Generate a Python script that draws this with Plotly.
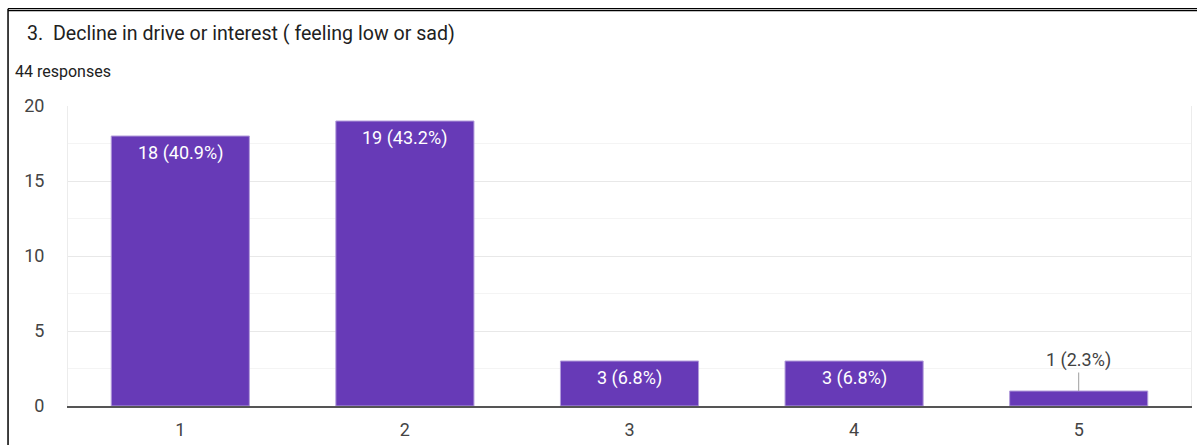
import plotly.graph_objects as go

# Survey question results
categories = ["1", "2", "3", "4", "5"]
counts = [18, 19, 3, 3, 1]
total_responses = 44
title_text = "3.  Decline in drive or interest ( feeling low or sad)"
subtitle_text = f"{total_responses} responses"
y_ticks = [0, 5, 10, 15, 20]

BAR_COLOR = "#673ab7"
FONT = "Roboto, Arial, sans-serif"

labels = [f"{c} ({c / total_responses * 100:.1f}%)" for c in counts]

fig = go.Figure()
fig.add_trace(go.Bar(
    x=categories,
    y=counts,
    marker=dict(color=BAR_COLOR, line=dict(color="#b39ddb", width=1)),
    width=0.615,
    hoverinfo="skip",
))

# Value labels: inside the bar top when tall enough, otherwise above with a leader line
for idx, (val, lab) in enumerate(zip(counts, labels)):
    if val >= 2:
        fig.add_annotation(
            x=idx, y=val, text=lab, showarrow=False,
            xanchor="center", yanchor="top", yshift=-4,
            font=dict(family=FONT, size=18, color="#ffffff"),
        )
    else:
        fig.add_annotation(
            x=idx, y=val, text=lab, showarrow=True,
            arrowhead=0, arrowwidth=1, arrowcolor="#9e9e9e",
            ax=0, ay=-31, standoff=0,
            font=dict(family=FONT, size=18, color="#424242"),
        )

# Heading and response count
fig.add_annotation(
    xref="paper", yref="paper", x=-0.038, y=1.242,
    xanchor="left", yanchor="middle", showarrow=False,
    text=title_text, font=dict(family=FONT, size=19.6, color="#212121"),
)
fig.add_annotation(
    xref="paper", yref="paper", x=-0.049, y=1.114,
    xanchor="left", yanchor="middle", showarrow=False,
    text=subtitle_text, font=dict(family=FONT, size=16, color="#212121"),
)

# Card frame: double rule along the top, single rule on the left
for yv in (1.3245, 1.3180):
    fig.add_shape(type="line", xref="paper", yref="paper",
                  x0=-0.0534, x1=1.01, y0=yv, y1=yv,
                  line=dict(color="#000000", width=1.2))
fig.add_shape(type="line", xref="paper", yref="paper",
              x0=-0.0534, x1=-0.0534, y0=-0.2, y1=1.3245,
              line=dict(color="#000000", width=1.5))

fig.update_layout(
    width=1197, height=445,
    margin=dict(l=68, r=5, t=106, b=34),
    paper_bgcolor="#ffffff", plot_bgcolor="#ffffff",
    showlegend=False, bargap=0.385,
    font=dict(family=FONT, size=18, color="#444444"),
    xaxis=dict(
        type="category", range=[-0.5, len(categories) - 0.5],
        showgrid=False, ticks="", zeroline=False,
        showline=True, linecolor="#555555", linewidth=2,
        tickfont=dict(family=FONT, size=18, color="#444444"),
        ticklabelstandoff=6,
    ),
    yaxis=dict(
        range=[0, 20], tickvals=y_ticks, ticktext=[str(v) for v in y_ticks],
        showgrid=True, gridcolor="#e8e8e8", gridwidth=1,
        minor=dict(dtick=2.5, showgrid=True, gridcolor="#f4f4f4", gridwidth=1),
        zeroline=False, showline=True, linecolor="#ececec", linewidth=1, mirror=True,
        ticks="", tickfont=dict(family=FONT, size=18, color="#444444"),
        ticklabelstandoff=19,
    ),
)

fig.write_html("out.html")
